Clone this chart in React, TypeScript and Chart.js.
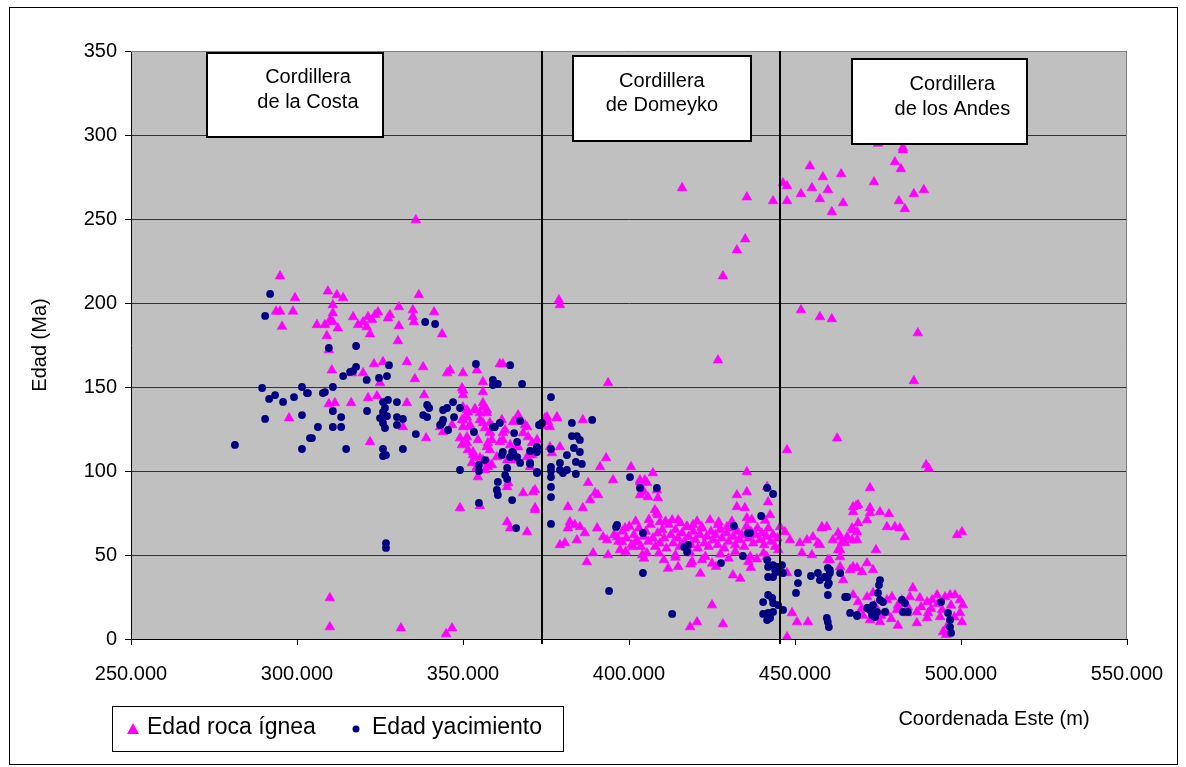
import React, { useEffect, useRef } from 'react';
import { Chart, registerables } from 'chart.js';

Chart.register(...registerables);

// ---- Axis ticks / labels ----
const xTickMin = 250;
const xTickMax = 550;
const xTickStep = 50;
const yTickMin = 0;
const yTickMax = 350;
const yTickStep = 50;
const xAxisTitle = 'Coordenada Este (m)';
const yAxisTitle = 'Edad (Ma)';
const seriesLabels = ['Edad roca ígnea', 'Edad yacimiento'];

// Boundaries between morphostructural units (Coordenada Este, km)
const dividers = [373.8, 445.5];

// Region labels: [x1, x2, yTop, yBottom, textX, line1Y, line2Y] in data units
const regionNames = [
  ['Cordillera', 'de la Costa'],
  ['Cordillera', 'de Domeyko'],
  ['Cordillera', 'de los Andes'],
];
const regionBoxes = [
  [272.9, 325.9, 349, 299, 303.3, 334.2, 319.3],
  [383.2, 436.6, 347, 296.6, 409.9, 332.1, 317.3],
  [467.1, 519.9, 345, 294.6, 497.4, 329.8, 314.9],
];

// ---- Edad roca ígnea [Este (km), Edad (Ma)] ----
const igneaCosta: [number, number][] = [
  [294.9, 216], [299.4, 203], [293.7, 195], [294.9, 195], [298.8, 195], [295.5, 186], [297.6, 131.5],
  [309.3, 207], [312, 204.8], [313.9, 203], [310.8, 198.8], [310.8, 194], [310.8, 188.7], [306, 187], [308.4, 187],
  [310, 190], [312.3, 185], [309, 180.4], [309.6, 172],
  [316.9, 191.7], [318.4, 187], [319.9, 188.7], [321.4, 191.7], [322.6, 190], [322, 181.5], [321, 185.7], [323.5, 192.9],
  [324.4, 194.6], [327.4, 191], [328, 192.9], [330.7, 197.6], [330.7, 186.3], [330.4, 177.4], [334.9, 195.8], [334.9, 191.7],
  [335.2, 188.7], [336.7, 204.8], [341.3, 194.6], [343.7, 181.5], [335.8, 249.4],
  [310.5, 160], [316.6, 158.3], [319.9, 158.3], [323.2, 163.7], [325.9, 164.9], [325, 152.4], [333.1, 164.9], [335.5, 154.8],
  [338, 161.9], [345.2, 158.3], [346.1, 160], [350, 158.3], [354.2, 160], [361.1, 163.7], [362, 163.7], [349.7, 149.4],
  [350, 145.2], [356, 153], [356, 147],
  [311.4, 140.5], [309.6, 139.9], [316.3, 140.5], [321.4, 143.5], [324.1, 144.6], [333.1, 140.5], [338.3, 145.2],
  [322, 117.3], [331.9, 126.2], [338.9, 119.6],
  [350, 138], [351.5, 135], [351.2, 132], [353.6, 137], [355.1, 134.5], [356, 138], [357.2, 134.5], [358.1, 128.6],
  [359, 126.2], [356, 128.6], [343.1, 126.2], [344, 123.2], [346.7, 127.4], [349.7, 130.4], [350, 126.2], [352.1, 127.4],
  [349.1, 119.6], [349.7, 115.5], [351.2, 116.7], [353, 111.3], [353.6, 108.3], [352.7, 104.8], [354.2, 102.4], [354.5, 96.4],
  [356, 106.5], [357.5, 102.4], [357.5, 116.7], [358.1, 122.6], [361.1, 117.3], [362, 122.6], [364.2, 115.5], [363.3, 106.5],
  [365.1, 106.5], [366.3, 114.3], [366.6, 132.1], [368.1, 122.6], [369.3, 126.2], [371.1, 110.7], [372.3, 118.5], [370.2, 102.4],
  [368.1, 86.9], [371.7, 88.7], [371.7, 78], [349.1, 78], [363.3, 90.5], [371.7, 76.8], [371.1, 87.5],
  [350, 148], [356, 140.5], [351.2, 136.3], [353.6, 136.3], [357.2, 136.3], [350, 130.4], [352.1, 126.2], [355.1, 130.4],
  [356.6, 125.6], [358.1, 123.2], [358.7, 118.5], [357.2, 114.3], [354.5, 118.5], [351.5, 112.5], [353, 109.5], [355.1, 107.7],
  [357.5, 105.4], [358.7, 103.6], [354.2, 101.8], [356.6, 100.6], [351.2, 120.2],
  [361.7, 130.4], [362.7, 124.4], [362, 118.5], [365.1, 129.2], [366.6, 133.3], [368.7, 127.4], [369.6, 120.2], [370.8, 116.7],
  [366.6, 114.3], [369.3, 108.3], [370.8, 109.5], [358.1, 112.5], [360.2, 108.3], [363.6, 92.9], [363.3, 69.6], [364.2, 66],
  [369.3, 63.7], [355.1, 79.2],
  [309.9, 24.4], [309.9, 7.1], [331.3, 6.5], [344.9, 3], [346.7, 6.5],
];

const igneaDomeyko: [number, number][] = [
  [374.7, 131.5], [375.6, 129.2], [378.3, 131.5], [376.2, 114.3], [379.2, 114.3], [376.8, 110.7], [378.3, 132.1], [375.3, 132.1],
  [374.1, 126.8], [376.2, 126.2], [386.1, 130.4],
  [378.9, 201.8], [379.2, 198.8], [393.7, 152.4], [426.8, 166],
  [393.1, 107.7], [391.3, 102.4], [400.6, 102.4], [395.2, 94.6], [387.7, 93], [407.2, 98.8], [408.7, 83.9], [403.3, 94.6],
  [405.4, 93], [403.9, 87.5], [405.7, 84.5], [390.7, 85.7], [388.3, 82.7], [389.8, 86.9], [386.1, 78], [381.6, 78.6],
  [408.4, 75], [409.3, 69.6],
  [382.2, 69.6], [381.6, 66], [383.7, 67.9], [385.2, 66.7], [386.7, 63.1], [380.7, 57.1], [379.2, 56], [384.3, 58.9],
  [387.3, 45.8], [389.2, 51.2], [390.4, 66], [392.2, 60.7], [393.4, 58.9], [393.7, 50], [396.4, 60.7], [397.9, 57.7],
  [398.8, 66], [401.2, 54.8], [402.4, 57.7], [405.4, 51.2], [397.3, 53],
  [435.5, 99.4], [403.3, 93.5], [404.8, 94.6], [403.3, 85.7], [404.2, 88.7], [408.4, 88.7], [407.8, 76.8], [408.7, 73.8],
  [432.5, 85.7], [435.5, 87.5], [432.5, 78.6], [434.9, 78], [435.5, 72], [441.6, 90.5], [441.9, 81.5], [442.5, 73.8],
  [413, 70.8], [414.8, 70.8], [417.5, 66.7], [419.3, 67.9], [424.4, 70.8], [426.8, 67.9], [429.5, 66.7], [421.9, 66.7],
  [395.5, 62], [396.8, 58], [398, 64], [399.2, 60], [400.1, 67], [400.8, 56], [401.5, 62], [402.3, 59], [403, 66],
  [403.6, 55], [404.4, 61], [405.1, 64], [405.8, 58], [406.5, 68], [407.2, 60], [407.9, 55], [408.6, 63], [409.3, 57],
  [410, 65], [410.6, 60], [411.3, 54], [412, 68], [412.6, 62], [413.3, 57], [414, 65], [414.7, 60], [415.3, 55], [416, 63],
  [416.7, 58], [417.4, 67], [418, 61], [418.7, 56], [419.4, 64], [420, 59], [420.7, 54], [421.4, 62], [422, 66], [422.7, 57],
  [423.4, 61], [424, 55], [424.7, 64], [425.4, 59], [426, 62], [426.7, 56], [427.4, 65], [428, 60], [428.7, 54], [429.4, 63],
  [430, 58], [430.7, 66], [431.4, 61], [432, 56], [432.7, 64], [433.4, 59], [434, 62], [434.7, 55], [435.4, 67], [436, 60],
  [436.7, 64], [437.4, 57], [438, 62], [438.7, 66], [439.4, 59], [440, 63], [440.7, 56], [441.4, 61], [442, 66], [442.7, 58],
  [443.4, 62], [444, 55], [444.7, 60], [402, 70], [406, 71], [411, 70], [415.5, 69], [420.5, 70], [427, 69.5], [431, 70],
  [437, 71], [441, 70.5], [399, 52], [404, 50], [409, 51], [414, 50], [418.5, 51], [423, 49], [427.5, 50.5], [432, 52],
  [436.5, 49], [440.5, 51], [445, 53],
  [404.5, 48], [410.5, 47], [414, 48.5], [419, 46], [422, 47], [425, 45], [430, 48], [436, 46], [438.5, 47.5], [441.5, 49],
  [411.8, 42], [414.8, 43], [418.5, 44.5], [421.5, 39], [426.2, 43], [431.3, 38], [433.5, 36], [436.7, 42.5],
  [425, 20.2], [418.4, 7.1], [420.5, 10.1], [428.3, 8.9],
  [435, 238], [432.5, 231.5], [428.3, 216], [416, 268.5], [435.5, 263], [443.4, 260.7],
];

const igneaAndes: [number, number][] = [
  [447.6, 260.7], [446.4, 271.4], [447.6, 269.6], [454.5, 281.5], [458.4, 275], [463.9, 276.8], [451.8, 264.9], [455.1, 268.5],
  [459.9, 267.3], [457.5, 261.9], [461.1, 254.2], [464.5, 259.5], [473.8, 272], [480.1, 283.9], [481.9, 279.8], [482.5, 291],
  [481.3, 260.7], [483.1, 256], [485.8, 264.9], [488.8, 267.3], [475, 295], [482.5, 292.5],
  [451.8, 195.8], [457.5, 191.7], [461.1, 190.5], [487, 182.1], [485.8, 153.6],
  [447.6, 112.5], [462.7, 119.5], [489.5, 103.6], [490.3, 101.5], [472.6, 89.9],
  [468.4, 79.2], [467.5, 75.6], [472.6, 78], [472.6, 75], [475.6, 75.6], [478.3, 74.4],
  [471.7, 70.8], [469, 69], [467.2, 66], [468.7, 63.7], [477.7, 66.7], [480.1, 66.7], [481.6, 66], [483.1, 60.7], [465.7, 60.7],
  [467.2, 58.9], [464.2, 57.7], [463, 63.1], [459.6, 66.7], [458.1, 66.7], [457.5, 56],
  [498.8, 61.9], [500.3, 63.7], [474.4, 53],
  [459.9, 47], [463.6, 48.8], [463.6, 42.9], [463, 53], [466.6, 41.1], [468.7, 42.3], [470.2, 39.9], [471.7, 45.2], [473.5, 41.1],
  [464.5, 35.1],
  [445.5, 66.7], [447, 63.7], [448.5, 58.9], [451.5, 57.1], [453.6, 58.9], [455.4, 60.7], [456.9, 57.1], [458.1, 66], [461.4, 58.9],
  [463.6, 60.7], [465.1, 57.1], [467.5, 78.6], [469, 79.8], [467.5, 64.9], [468.7, 58.9], [452.1, 51.2], [455.1, 50], [460.5, 47],
  [463.6, 53], [467.5, 42.9],
  [447.6, 39.3], [450.6, 10.1], [453.9, 10.1], [449.1, 15.5], [447.6, 1.2],
  [467.5, 26.2], [469, 22], [471.7, 25], [473.5, 27.4], [477.7, 23.2], [479.2, 25], [482.2, 23.2], [485.5, 30.4], [484.6, 25],
  [487.6, 24.4], [489.8, 22], [491.3, 23.2], [492.8, 26.2], [495.2, 25], [496.7, 26.2], [498.2, 26.2], [499.7, 23.2], [500.6, 20.2],
  [499.7, 15.5], [500.3, 10.1], [494.3, 17.3], [493.7, 13.1], [490.1, 15.5], [489.8, 12.5], [486.7, 16.1], [486.7, 9.5],
  [475.6, 10.1], [477.7, 15.5], [480.7, 17.3], [483.7, 15.5], [472.6, 11.3], [494.6, 4.2],
  [470, 18], [474, 20], [476, 14], [479, 12], [481, 20], [484, 19], [488, 19], [491, 18], [493, 21], [497, 20], [498, 13],
  [496, 8], [495.5, 2.5], [481, 8], [470.5, 14],
];

// ---- Edad yacimiento [Este (km), Edad (Ma)] ----
const yacimientoCosta: [number, number][] = [
  [291.9, 205.4], [290.4, 192.3], [289.5, 149.4], [291.6, 142.9], [293.4, 145.2], [295.8, 141.1], [299.1, 144], [301.5, 150],
  [303, 146.4], [290.4, 131], [301.5, 133.3], [281.3, 115.5], [301.5, 113.1], [303.9, 119.6],
  [309.6, 173.2], [317.8, 174.4], [313.9, 156.5], [316, 159], [317.8, 162], [316.9, 159.5], [321, 154.2], [324.7, 155.4],
  [327.1, 156.5], [327.7, 163], [338.6, 188.7], [341.6, 187.5],
  [310.8, 150], [307.8, 146.4], [308.4, 147], [303.3, 146.4],
  [310.8, 135.7], [313.3, 132.1], [310.8, 126.2], [313.3, 126.2], [306.3, 126.2], [304.5, 119.6], [314.8, 113.1], [321.1, 135.7],
  [325.9, 141], [327.4, 142.3], [326.5, 137.5], [325.9, 135.1], [327.1, 132.7], [325, 131.5], [325.9, 128.6], [326.5, 125.6],
  [330.1, 141], [330.1, 132.1], [330.1, 127.4], [331.9, 131], [325.9, 113.1], [325.9, 108.9], [331.9, 113.1], [335.8, 122],
  [339.2, 139.3], [339.8, 137.5], [338, 133.3], [339.2, 132.1], [343.7, 128.6], [344, 130.4], [343.1, 127.4], [345.5, 124.4],
  [344, 136.3], [345.2, 137.5], [347, 141], [349.1, 137.5], [347.3, 132.1], [353.3, 123.2], [353.9, 163.7], [359, 154.2],
  [360.5, 151.8], [359, 151.2], [364.2, 163], [367.8, 151.8], [359, 126.2], [361.1, 128.6], [349.1, 100.6], [354.8, 103.6],
  [354.8, 100], [356.6, 106.5], [362, 111.3], [361.7, 109.5], [364.2, 108.3], [365.1, 110.7], [366.3, 108.3], [363.3, 101.8],
  [362.7, 97.6], [363.3, 95.2], [360.5, 93.5], [360.2, 88.7], [360.5, 85.7], [364.8, 82.7], [354.8, 81], [367.2, 104.8],
  [370.2, 104.8], [372.3, 99.4], [365.4, 122.6], [366.3, 117.3], [367.2, 129.8], [372.9, 127.4], [372.3, 113.7],
  [359.6, 126.2], [373.2, 127.4], [366, 66], [364.8, 111.3], [370.2, 111.9], [370.2, 104.2], [372.3, 114.3], [372.3, 98.8],
  [372.3, 111.3], [326.8, 57.1], [326.8, 54.2], [326.8, 109.5],
];

const yacimientoDomeyko: [number, number][] = [
  [376.5, 144], [373.8, 128.6], [376.5, 113.1], [376.5, 102.4], [376.5, 100], [376.5, 96.4], [376.5, 90.5], [376.5, 84.5],
  [376.5, 68.5], [379.2, 104.8], [379.2, 100.6], [380.1, 98.8], [381.3, 100.6], [381.3, 109.5], [382.8, 128.6], [382.8, 120.8],
  [384.3, 120.8], [385.2, 118.5], [383.4, 113.7], [385.2, 111.3], [384, 105.4], [385.8, 104.2], [384, 98.2], [388.9, 130.4],
  [400.3, 96.4], [403.3, 89.9], [408.4, 89.9], [396.4, 67.9], [396.1, 66.7], [404.2, 63.1], [416.6, 54.8], [417.5, 51.8],
  [417.8, 56], [427.7, 45.2], [404.2, 39.3], [394, 28.6], [413, 14.9], [431.6, 67.3], [435.8, 63.1], [436.4, 63.1],
  [439.8, 73.2], [441.6, 89.9], [443.4, 86.3], [434.3, 49.4],
  [441.6, 47], [441.9, 42.9], [443.4, 44], [444.6, 42.9], [444, 41.1], [441.9, 36.9], [443.4, 36.9], [445, 39.9],
  [440.4, 22], [441.9, 26.2], [443.1, 24.4], [443.4, 21.4], [440.4, 14.9], [441.9, 15.5], [442.5, 12.5], [443.4, 16.1],
  [444.9, 20.2], [441.6, 11.3],
];

const yacimientoAndes: [number, number][] = [
  [446.1, 44], [446.4, 39.3], [446.4, 17.3], [450.9, 39.3], [450.9, 33.3], [450.3, 27.4], [454.8, 37.5], [456.9, 39.3],
  [457.5, 35.1], [459.9, 42.3], [459.9, 36.9], [460.5, 39.3], [459.9, 32.1], [463.6, 39.3], [459.9, 26.2], [465.1, 25],
  [465.7, 25], [459.6, 12.5], [459.9, 10.1], [460.2, 7.1], [466.6, 15.5], [468.7, 14.3], [460.5, 41.1], [460.2, 33.3],
  [459, 36.9], [475.6, 35.1], [475.3, 32.1], [475, 27.4], [475.6, 23.2], [476.5, 22], [468.7, 13.7], [471.7, 18.5],
  [472.6, 17.3], [473.2, 14.3], [474.1, 13.1], [473.5, 20.2], [477.1, 16.1], [474.7, 16.1], [482.2, 23.2], [483.1, 21.4],
  [484, 16.1], [482.5, 16.1], [494, 22], [496.1, 15.5], [496.7, 11.3], [496.7, 7.1], [497, 3.6],
];

const FONT = '"Liberation Sans", Arial, sans-serif';

const toPoints = (arr: [number, number][]) => arr.map(([x, y]) => ({ x, y }));

const decorPlugin = {
  id: 'decor',
  beforeDraw(chart: any) {
    const { ctx, chartArea: a } = chart;
    ctx.save();
    ctx.fillStyle = '#ffffff';
    ctx.fillRect(0, 0, chart.width, chart.height);
    ctx.fillStyle = '#C0C0C0';
    ctx.fillRect(a.left, a.top, a.right - a.left, a.bottom - a.top);
    ctx.restore();
  },
  afterDatasetsDraw(chart: any) {
    const { ctx, chartArea: a, scales } = chart;
    const xs = scales.x;
    const ys = scales.y;
    ctx.save();
    // gray top & right plot border
    ctx.strokeStyle = '#808080';
    ctx.lineWidth = 1;
    ctx.beginPath();
    ctx.moveTo(a.left, a.top + 0.5);
    ctx.lineTo(a.right - 0.5, a.top + 0.5);
    ctx.lineTo(a.right - 0.5, a.bottom);
    ctx.stroke();
    // dividers
    ctx.strokeStyle = '#000';
    ctx.lineWidth = 2;
    dividers.forEach((d) => {
      const px = Math.round(xs.getPixelForValue(d));
      ctx.beginPath();
      ctx.moveTo(px, a.top);
      ctx.lineTo(px, a.bottom + 5);
      ctx.stroke();
    });
    // region boxes
    regionBoxes.forEach((b, i) => {
      const x1 = Math.round(xs.getPixelForValue(b[0]));
      const x2 = Math.round(xs.getPixelForValue(b[1]));
      const y1 = Math.round(ys.getPixelForValue(b[2]));
      const y2 = Math.round(ys.getPixelForValue(b[3]));
      ctx.fillStyle = '#fff';
      ctx.fillRect(x1, y1, x2 - x1, y2 - y1);
      ctx.strokeStyle = '#000';
      ctx.lineWidth = 2;
      ctx.strokeRect(x1, y1, x2 - x1, y2 - y1);
      ctx.fillStyle = '#000';
      ctx.font = `20px ${FONT}`;
      ctx.textAlign = 'center';
      ctx.textBaseline = 'middle';
      const tx = xs.getPixelForValue(b[4]);
      ctx.fillText(regionNames[i][0], tx, ys.getPixelForValue(b[5]));
      ctx.fillText(regionNames[i][1], tx, ys.getPixelForValue(b[6]));
    });
    ctx.restore();
  },
  afterDraw(chart: any) {
    const { ctx } = chart;
    ctx.save();
    // axis titles
    ctx.fillStyle = '#000';
    ctx.font = `20px ${FONT}`;
    ctx.textAlign = 'center';
    ctx.textBaseline = 'middle';
    ctx.fillText(xAxisTitle, 994, 719);
    ctx.save();
    ctx.translate(40, 345);
    ctx.rotate(-Math.PI / 2);
    ctx.fillText(yAxisTitle, 0, 0);
    ctx.restore();
    // legend
    ctx.strokeStyle = '#000';
    ctx.lineWidth = 1;
    ctx.strokeRect(112.5, 706.5, 451, 45);
    const ds = chart.data.datasets;
    ctx.font = `23px ${FONT}`;
    ctx.textAlign = 'left';
    // triangle marker
    ctx.fillStyle = ds[0].backgroundColor;
    ctx.beginPath();
    ctx.moveTo(133, 723);
    ctx.lineTo(139, 734);
    ctx.lineTo(127, 734);
    ctx.closePath();
    ctx.fill();
    ctx.fillStyle = '#000';
    ctx.fillText(ds[0].label, 147, 728);
    // circle marker
    ctx.fillStyle = ds[1].backgroundColor;
    ctx.beginPath();
    ctx.arc(356, 729, 3.5, 0, Math.PI * 2);
    ctx.fill();
    ctx.fillStyle = '#000';
    ctx.fillText(ds[1].label, 372, 728);
    // outer frame
    ctx.strokeStyle = '#000';
    ctx.lineWidth = 1;
    ctx.strokeRect(9.5, 7.5, 1168, 757);
    ctx.restore();
  },
};

export default function App() {
  const canvasRef = useRef<HTMLCanvasElement | null>(null);

  useEffect(() => {
    const canvas = canvasRef.current;
    if (!canvas) return;
    const chart = new Chart(canvas, {
      type: 'scatter',
      data: {
        datasets: [
          {
            label: seriesLabels[0],
            data: toPoints([...igneaCosta, ...igneaDomeyko, ...igneaAndes]),
            pointStyle: 'triangle',
            pointRadius: 5.6,
            backgroundColor: '#FF00FF',
            borderColor: '#FF00FF',
            borderWidth: 0.6,
            order: 2,
          },
          {
            label: seriesLabels[1],
            data: toPoints([...yacimientoCosta, ...yacimientoDomeyko, ...yacimientoAndes]),
            pointStyle: 'circle',
            pointRadius: 3.9,
            backgroundColor: '#000080',
            borderColor: '#000080',
            borderWidth: 0,
            order: 1,
          },
        ],
      },
      options: {
        animation: false,
        responsive: false,
        devicePixelRatio: 1,
        layout: { padding: { left: 0, top: 51, right: 59, bottom: 0 } },
        plugins: {
          legend: { display: false },
          tooltip: { enabled: false },
          title: { display: false },
        },
        scales: {
          x: {
            type: 'linear',
            min: xTickMin,
            max: xTickMax,
            afterFit: (s: any) => {
              s.height = 128;
            },
            ticks: {
              stepSize: xTickStep,
              callback: (v: any) => `${v}.000`,
              font: { family: FONT, size: 20 },
              color: '#000',
              padding: 17,
              maxRotation: 0,
            },
            grid: {
              drawOnChartArea: false,
              drawTicks: true,
              tickLength: 6,
              tickColor: '#000',
            },
            border: { color: '#000', width: 1 },
          },
          y: {
            type: 'linear',
            min: yTickMin,
            max: yTickMax,
            afterFit: (s: any) => {
              s.width = 131;
            },
            ticks: {
              stepSize: yTickStep,
              font: { family: FONT, size: 20 },
              color: '#000',
              padding: 8,
            },
            grid: {
              color: '#333',
              lineWidth: 1,
              drawTicks: true,
              tickLength: 6,
              tickColor: '#000',
            },
            border: { color: '#000', width: 1 },
          },
        },
      },
      plugins: [decorPlugin],
    } as any);
    return () => chart.destroy();
  }, []);

  return (
    <div style={{ position: 'absolute', left: 0, top: 0, width: 1186, height: 767, overflow: 'hidden', background: '#fff' }}>
      <canvas ref={canvasRef} width={1186} height={767} style={{ display: 'block' }} />
    </div>
  );
}
